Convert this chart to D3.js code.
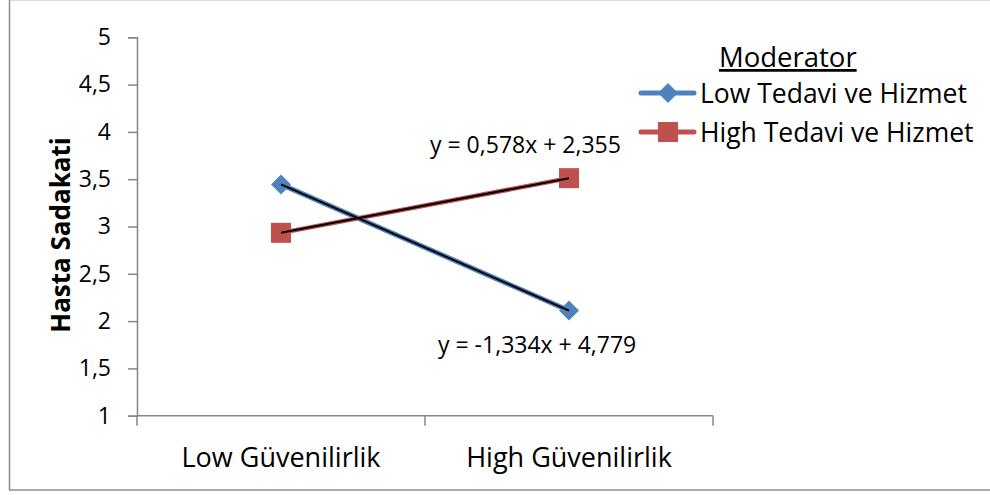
<!DOCTYPE html>
<html><head><meta charset="utf-8">
<script src="https://cdn.jsdelivr.net/npm/d3@7"></script>
<style>body{margin:0;background:#fff}svg{display:block}text{font-family:"Open Sans",sans-serif;fill:#000}</style>
</head><body>
<svg id="c" width="990" height="495"></svg>
<script>
const categories = ["Low Güvenilirlik", "High Güvenilirlik"];
const seriesNames = ["Low Tedavi ve Hizmet", "High Tedavi ve Hizmet"];
const lowTedavi = [3.445, 2.111];
const highTedavi = [2.933, 3.511];
const trendSlopes = [-1.334, 0.578];
const trendIntercepts = [4.779, 2.355];
const trendLabels = ["y = -1,334x + 4,779", "y = 0,578x + 2,355"];
const yTicks = [1, 1.5, 2, 2.5, 3, 3.5, 4, 4.5, 5];
const yTitle = "Hasta Sadakati";
const legendTitle = "Moderator";

const colors = ["#4F81BD", "#C0504D"];
const series = [lowTedavi, highTedavi];
const svg = d3.select("#c");

// outer border
svg.append("line").attr("x1",9.5).attr("x2",990).attr("y1",0.5).attr("y2",0.5).attr("stroke","#d9d9d9");
svg.append("line").attr("x1",9.5).attr("x2",9.5).attr("y1",0).attr("y2",490).attr("stroke","#8c8c8c").attr("stroke-width",1.5);
svg.append("line").attr("x1",9).attr("x2",990).attr("y1",490).attr("y2",490).attr("stroke","#8c8c8c").attr("stroke-width",1.5);

const x0 = 137, x1 = 713, yTop = 37.3, yBot = 415.7;
const x = d3.scaleBand().domain(categories).range([x0, x1]);
const y = d3.scaleLinear().domain([1, 5]).range([yBot, yTop]);
const axisColor = "#868686";
const fmt = v => String(v).replace(".", ",");

// y axis
const ya = svg.append("g").attr("transform",`translate(${x0},0)`)
  .call(d3.axisLeft(y).tickValues(yTicks).tickSize(9).tickPadding(17).tickFormat(fmt));
ya.select(".domain").attr("stroke",axisColor).attr("stroke-width",1.5);
ya.selectAll(".tick line").attr("stroke",axisColor).attr("stroke-width",1.5);
ya.selectAll(".tick text").attr("font-size",23).attr("font-family","Open Sans").attr("fill","#000");

// x axis
const xa = svg.append("g").attr("transform",`translate(0,${yBot})`)
  .call(d3.axisBottom(x).tickSize(0).tickPadding(0));
xa.select(".domain").remove();
xa.selectAll(".tick text").remove();
svg.append("line").attr("x1",x0).attr("x2",x1).attr("y1",yBot).attr("y2",yBot).attr("stroke",axisColor).attr("stroke-width",1.5);
const bounds = [x0].concat(categories.map(c => x(c) + x.bandwidth()));
svg.selectAll(".xt").data(bounds).enter().append("line")
  .attr("x1",d=>d).attr("x2",d=>d).attr("y1",yBot).attr("y2",yBot+10)
  .attr("stroke",axisColor).attr("stroke-width",1.5);
svg.selectAll(".xl").data(categories).enter().append("text")
  .attr("x",d=>x(d)+x.bandwidth()/2).attr("y",467).attr("text-anchor","middle")
  .attr("font-size",27).text(d=>d);

// y title
svg.append("text").attr("transform",`translate(70,235) rotate(-90)`)
  .attr("text-anchor","middle").attr("font-size",26).attr("font-weight","bold").text(yTitle);

const cx = c => x(c) + x.bandwidth()/2;
const line = d3.line().x((d,i)=>cx(categories[i])).y(d=>y(d));

function marker(g, k, px, py){
  if(k===0){
    g.append("path").attr("d",d3.symbol(d3.symbolSquare, 200)())
      .attr("transform",`translate(${px},${py}) rotate(45)`).attr("fill",colors[0]);
  } else {
    g.append("rect").attr("x",px-10).attr("y",py-10).attr("width",20).attr("height",20).attr("fill",colors[1]);
  }
}

series.forEach((s,k)=>{
  svg.append("path").datum(s).attr("d",line).attr("fill","none")
    .attr("stroke",colors[k]).attr("stroke-width",k===0?5:4.5);
});
series.forEach((s,k)=>{
  const g = svg.append("g");
  s.forEach((v,i)=>marker(g,k,cx(categories[i]),y(v)));
});
// trendlines
series.forEach((s,k)=>{
  const pts = categories.map((c,i)=>[cx(c), y(trendSlopes[k]*(i+1)+trendIntercepts[k])]);
  svg.append("path").attr("d",d3.line()(pts)).attr("fill","none").attr("stroke","#000").attr("stroke-width",2);
});
// trend labels
svg.append("text").attr("x",438).attr("y",353).attr("font-size",23).text(trendLabels[0]);
svg.append("text").attr("x",430).attr("y",153).attr("font-size",23).text(trendLabels[1]);

// legend
svg.append("text").attr("x",719).attr("y",67).attr("font-size",27.5).attr("text-decoration","underline").text(legendTitle);
const ly = [93, 132];
seriesNames.forEach((n,k)=>{
  const g = svg.append("g");
  g.append("line").attr("x1",641).attr("x2",694).attr("y1",ly[k]).attr("y2",ly[k])
    .attr("stroke",colors[k]).attr("stroke-width",5).attr("stroke-linecap","round");
  marker(g,k,668,ly[k]);
  g.append("text").attr("x",700).attr("y",ly[k]+10).attr("font-size",26.5).text(n);
});
</script>
</body></html>
